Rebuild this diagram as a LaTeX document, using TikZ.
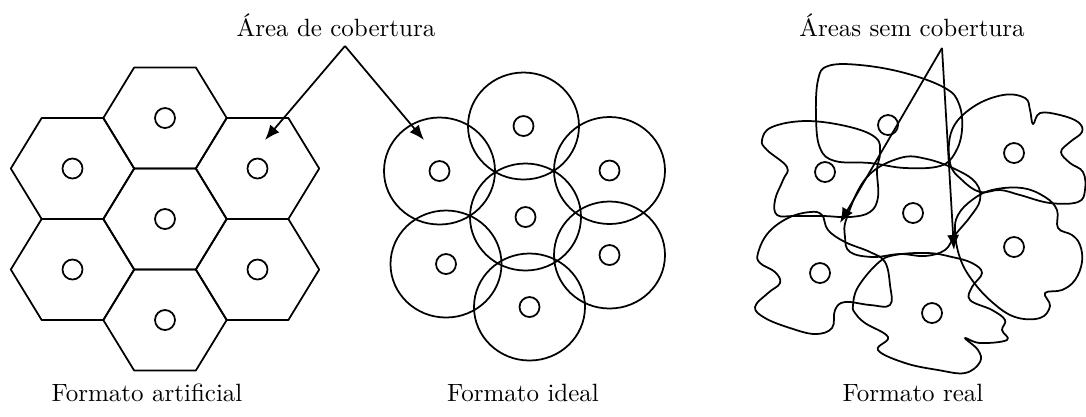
\documentclass[tikz,border=0pt]{standalone}
\usetikzlibrary{arrows.meta}
\begin{document}
\begin{tikzpicture}[x=0.4pt,y=-0.4pt,
  ln/.style={line width=0.7pt,line join=round},
  dot/.style={circle,draw,line width=0.7pt,minimum size=8pt,inner sep=0pt},
  arr/.style={line width=0.7pt,-{Latex[length=6pt,width=4.8pt]}},
  lbl/.style={font=\fontsize{10}{12}\selectfont,inner sep=0pt}]
\useasboundingbox (0,0) rectangle (1086,416);
% ---------- hexagons ----------
\foreach \cx/\cy [count=\i] in {165/118,165/219,165/320,72.5/168.5,72.5/269.5,257.5/168.5,257.5/269.5}{
  \draw[ln] (\cx+61.7,\cy) -- (\cx+30.85,\cy+50.5) -- (\cx-30.85,\cy+50.5) -- (\cx-61.7,\cy)
            -- (\cx-30.85,\cy-50.5) -- (\cx+30.85,\cy-50.5) -- cycle;
  \node[dot] (h\i) at (\cx,\cy) {};
}
% ---------- ideal circles ----------
\foreach \cx/\cy [count=\i] in {439.5/171,523.5/126,609.5/170.5,525.5/217,446/264,609.5/255,529.5/307}{
  \draw[ln] (\cx,\cy) ellipse [x radius=55.5,y radius=53.5];
  \node[dot] (c\i) at (\cx,\cy) {};
}
% ---------- real blobs ----------
\draw[ln] plot[smooth cycle,tension=0.65] coordinates {(828,66)(860,65)(905,73)(945,88)(959,104)(962,130)(955,153)(940,166)(905,168)(870,163)(835,161)(820,148)(816,117)(818,80)};
\draw[ln] plot[smooth cycle,tension=0.65] coordinates {(762,140)(772,127)(807,121)(850,127)(876,138)(880,153)(877,170)(878,197)(870,212)(850,217)(823,216)(795,216)(777,215)(775,200)(783,180)(787,167)(767,150)};
\draw[ln] plot[smooth cycle,tension=0.65] coordinates {(847,217)(867,177)(900,158)(927,159)(957,170)(976,183)(980,200)(970,217)(955,235)(945,250)(925,256)(900,254)(873,257)(850,252)(845,237)};
\draw[ln] plot[smooth cycle,tension=0.65] coordinates {(952,130)(973,107)(1003,95)(1025,98)(1030,110)(1033,124)(1040,113)(1060,115)(1078,122)(1082,132)(1070,142)(1061,152)(1070,163)(1083,172)(1085,190)(1078,202)(1050,203)(1020,195)(1000,190)(980,192)(962,180)(950,163)};
\draw[ln] plot[smooth cycle,tension=0.65] coordinates {(955,232)(958,215)(972,200)(992,190)(1022,188)(1045,197)(1057,210)(1058,228)(1072,235)(1080,245)(1082,262)(1075,280)(1062,290)(1045,293)(1050,306)(1040,318)(1015,317)(992,302)(972,280)(960,258)};
\draw[ln] plot[smooth cycle,tension=0.65] coordinates {(758,253)(768,233)(788,218)(810,212)(822,215)(828,230)(845,242)(870,252)(885,262)(890,285)(890,305)(870,305)(845,302)(835,310)(832,328)(815,334)(790,328)(765,318)(755,307)(768,293)(780,283)(775,272)(760,263)};
\draw[ln] plot[smooth cycle,tension=0.65] coordinates {(853,305)(858,287)(878,263)(895,255)(928,253)(952,257)(972,263)(982,273)(972,287)(970,300)(992,310)(1005,320)(1002,330)(1007,340)(980,343)(965,338)(978,350)(980,362)(965,373)(938,370)(905,363)(878,350)(888,337)(865,323)(855,313)};
\foreach \cx/\cy [count=\i] in {888/125,825/172,913/213,1014/153,1014/247,820/273,932/313}{
  \node[dot] (r\i) at (\cx,\cy) {};
}
% ---------- labels ----------
\node[lbl] (lcob) at (336,25) {Área de cobertura};
\node[lbl] (lsem) at (912,25) {Áreas sem cobertura};
\node[lbl] (lart) at (147,393) {Formato artificial};
\node[lbl] (lide) at (523,393) {Formato ideal};
\node[lbl] (lrea) at (913,393) {Formato real};
% ---------- arrows ----------
\coordinate (a1) at (345,46);
\coordinate (t1) at (265,140);
\coordinate (t2) at (424,140);
\draw[arr] (a1) -- (t1);
\draw[arr] (a1) -- (t2);
\coordinate (a2) at (942,48);
\coordinate (t3) at (840,223);
\coordinate (t4) at (954,250);
\draw[arr] (a2) -- (t3);
\draw[arr] (a2) -- (t4);
\end{tikzpicture}
\end{document}
